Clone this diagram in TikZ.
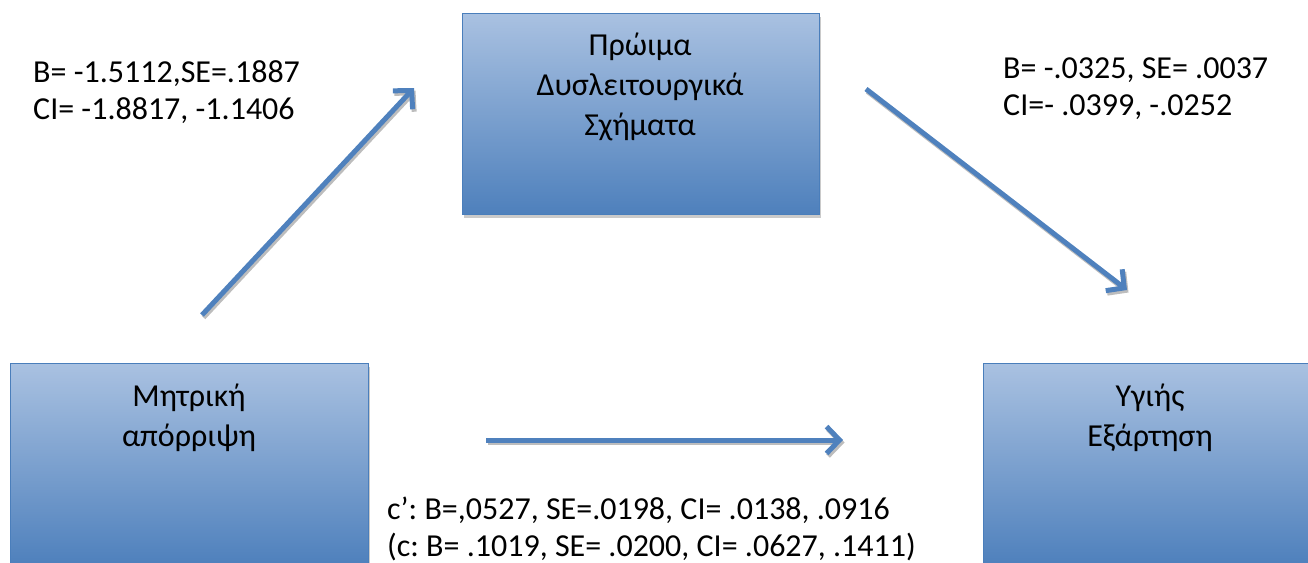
\documentclass[tikz,border=0pt]{standalone}
\usepackage{fontspec}
\setmainfont{Carlito}
\usetikzlibrary{arrows.meta,shadows}

\definecolor{boxtop}{HTML}{A9C1E1}
\definecolor{boxmid}{HTML}{96B0D7}
\definecolor{boxbot}{HTML}{4E80BC}
\definecolor{boxline}{HTML}{4A7EBB}
\definecolor{arrowblue}{HTML}{4F81BD}
\definecolor{shadowgray}{HTML}{BDBDBD}

\begin{document}
\frenchspacing
\begin{tikzpicture}[x=1pt,y=-1pt,
  box/.style={draw=boxline, line width=1.2pt, rectangle, inner sep=0pt,
    anchor=north west, top color=boxtop, middle color=boxmid, bottom color=boxbot,
    drop shadow={shadow xshift=1pt, shadow yshift=-3pt, fill=shadowgray, opacity=0.8}},
  % the base anchor of a multi-line node sits on its last line
  boxtext/.style={align=center, anchor=base, inner sep=0pt,
    font=\fontsize{32}{40}\selectfont},
  stat/.style={align=left, anchor=base west, inner sep=0pt,
    font=\fontsize{32}{37}\selectfont},
  conn/.style={draw=arrowblue, line width=5pt,
    -{Straight Barb[length=13pt, width=27pt]}},
  connshadow/.style={draw=shadowgray, line width=5pt,
    -{Straight Barb[length=13pt, width=27pt]},
    transform canvas={shift={(1.5pt,-2.5pt)}}}
]
\useasboundingbox (0,0) rectangle (1308,562);
\clip (0,0) rectangle (1308,562);

% variable boxes
\node[box, minimum width=357pt, minimum height=201pt] (early) at (462,13) {};
\node[box, minimum width=358pt, minimum height=202pt] (reject) at (10,363) {};
\node[box, minimum width=334pt, minimum height=202pt] (dep) at (983,363) {};

% box captions
\node[boxtext] (early-t) at (640,135) {Πρώιμα\\Δυσλειτουργικά\\Σχήματα};
\node[boxtext] (reject-t) at (189,446) {Μητρική\\απόρριψη};
\node[boxtext] (dep-t) at (1150,446) {Υγιής\\Εξάρτηση};

% path coefficients
\node[stat] (a-stat) at (33,119) {B= -1.5112,SE=.1887\\CI= -1.8817, -1.1406};
\node[stat] (b-stat) at (1003,115) {B= -.0325, SE= .0037\\CI=- .0399, -.0252};
\node[stat] (c-stat) at (387,556) {c’: B=,0527, SE=.0198, CI= .0138, .0916\\(c: B= .1019, SE= .0200, CI= .0627, .1411)};

% arrow end points
\coordinate (a-s) at (202,315);
\coordinate (a-e) at (414,88);
\coordinate (b-s) at (866,89);
\coordinate (b-e) at (1127,290);
\coordinate (c-s) at (486,440);
\coordinate (c-e) at (843,440);

% arrows with their shadows
\draw[connshadow] (a-s) -- (a-e);
\draw[connshadow] (b-s) -- (b-e);
\draw[connshadow] (c-s) -- (c-e);
\draw[conn] (a-s) -- (a-e);
\draw[conn] (b-s) -- (b-e);
\draw[conn] (c-s) -- (c-e);
\end{tikzpicture}
\end{document}
